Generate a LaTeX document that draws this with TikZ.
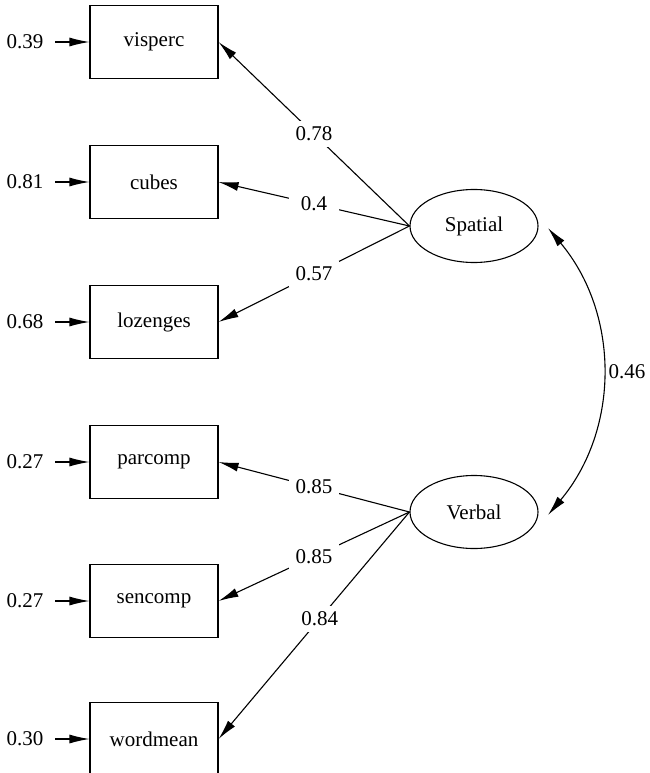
\documentclass[tikz,border=0pt]{standalone}
\usepackage{fontspec}
\setmainfont{Liberation Serif}
\usetikzlibrary{arrows.meta,shapes.geometric}
\begin{document}
\begin{tikzpicture}[x=1pt,y=-1pt,
  font=\fontsize{21}{25}\selectfont,
  every path/.style={line width=1.1pt},
  obs/.style={draw,rectangle,minimum width=128pt,minimum height=73pt,inner sep=0pt,line width=1.1pt},
  lat/.style={draw,ellipse,minimum width=128pt,minimum height=73pt,inner sep=0pt,line width=1.1pt},
  err/.style={anchor=east,inner sep=0pt},
  wt/.style={fill=white,minimum width=50pt,minimum height=26pt,inner sep=1pt},
  arr/.style={-{Latex[length=20pt,width=9pt]}},
  darr/.style={{Latex[length=20pt,width=9pt]}-{Latex[length=20pt,width=9pt]}}
]
\useasboundingbox (0,0) rectangle (649,773);
% observed
\node[obs] (v1) at (154,42) {visperc};
\node[obs] (v2) at (154,182) {cubes};
\node[obs] (v3) at (154,322) {lozenges};
\node[obs] (v4) at (154,462) {parcomp};
\node[obs] (v5) at (154,601) {sencomp};
\node[obs] (v6) at (154,739) {wordmean};
% latent
\node[lat] (sp) at (474,226) {Spatial};
\node[lat] (vb) at (474,512) {Verbal};
% errors
\node[err] (e1) at (44,42) {0.39};
\node[err] (e2) at (44,182) {0.81};
\node[err] (e3) at (44,322) {0.68};
\node[err] (e4) at (44,462) {0.27};
\node[err] (e5) at (44,601) {0.27};
\node[err] (e6) at (44,739) {0.30};
\foreach \i in {1,...,6}{\draw[arr,shorten <=11pt] (e\i.east) -- (v\i.west);}
% loadings
\draw[arr] (sp.west) -- node[wt,pos=0.5]{0.78} (v1.east);
\draw[arr] (sp.west) -- node[wt,pos=0.5]{0.4} (v2.east);
\draw[arr] (sp.west) -- node[wt,pos=0.5]{0.57} (v3.east);
\draw[arr] (vb.west) -- node[wt,pos=0.5]{0.85} (v4.east);
\draw[arr] (vb.west) -- node[wt,pos=0.5]{0.85} (v5.east);
\draw[arr] (vb.west) -- node[wt,pos=0.47]{0.84} (v6.east);
% covariance
\coordinate (c1) at (548,228);
\coordinate (c2) at (548,515);
\draw[darr] (c1) to[bend left=40] node[right,inner sep=6pt]{0.46} (c2);
\end{tikzpicture}
\end{document}
